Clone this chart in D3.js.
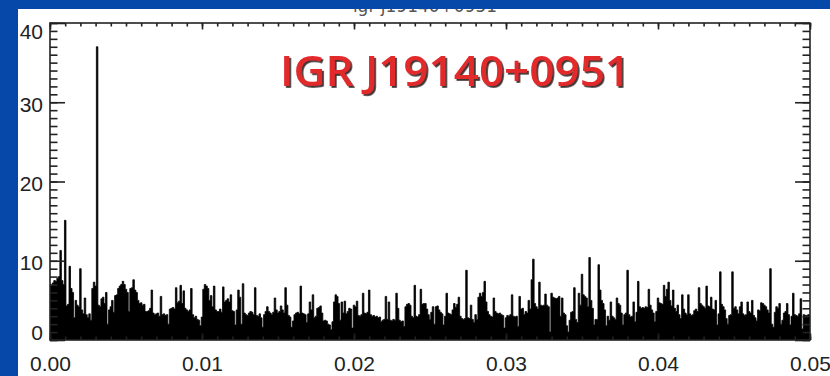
<!DOCTYPE html>
<html>
<head>
<meta charset="utf-8">
<script src="https://cdn.jsdelivr.net/npm/d3@7"></script>
<style>
  html, body { margin: 0; padding: 0; background: #fff; }
  svg { display: block; }
</style>
</head>
<body>
<svg id="chart" width="830" height="376"></svg>
<script>
// Power spectrum of IGR J19140+0951: one power value per frequency bin.
const freqStep = 0.0001; // Hz per bin
const power = [
  7.0, 6.8, 7.2, 7.5, 7.4, 7.8, 8.0, 11.3, 7.5, 7.0,
  15.1, 4.3, 4.5, 9.3, 6.5, 6.0, 2.8, 5.0, 4.4, 4.2,
  9.0, 3.8, 3.3, 5.3, 3.2, 2.8, 3.3, 2.5, 6.5, 7.3,
  6.8, 37.0, 4.4, 4.2, 5.2, 5.4, 4.6, 6.0, 2.0, 3.8,
  4.2, 5.0, 3.5, 5.6, 5.7, 6.5, 6.8, 7.0, 7.4, 7.0,
  6.4, 6.0, 3.6, 6.5, 6.6, 7.6, 6.3, 6.0, 5.0, 4.6,
  4.7, 4.4, 4.5, 3.6, 3.6, 3.7, 4.0, 6.3, 3.4, 3.2,
  3.3, 3.4, 3.0, 5.5, 3.2, 3.3, 3.1, 3.2, 2.0, 3.9,
  4.0, 4.1, 3.9, 6.6, 4.7, 4.9, 6.9, 4.6, 6.2, 4.0,
  3.8, 3.6, 3.8, 6.5, 3.2, 2.8, 3.0, 2.6, 2.5, 1.8,
  2.9, 6.4, 7.0, 6.8, 6.5, 5.0, 5.6, 4.2, 6.8, 3.8,
  3.6, 3.6, 3.9, 3.5, 6.7, 4.8, 5.0, 5.2, 4.8, 5.7,
  3.7, 3.6, 1.9, 3.8, 6.3, 5.4, 2.0, 7.1, 3.4, 3.2,
  3.1, 3.4, 3.6, 3.5, 3.2, 6.6, 3.1, 3.0, 3.3, 2.8,
  1.6, 3.2, 3.6, 4.2, 3.6, 3.4, 3.2, 3.5, 5.3, 3.8,
  3.4, 3.6, 4.3, 3.8, 3.4, 6.6, 4.4, 3.1, 2.9, 1.6,
  2.4, 3.2, 3.4, 3.5, 3.3, 6.8, 3.4, 3.3, 3.2, 2.2,
  3.3, 4.8, 3.8, 5.7, 2.8, 3.0, 4.0, 4.1, 4.3, 3.4,
  2.4, 2.5, 2.4, 2.0, 1.9, 1.3, 2.3, 4.8, 5.7, 5.5,
  4.6, 2.5, 4.8, 3.4, 4.9, 3.3, 3.6, 4.0, 3.9, 1.5,
  4.4, 4.2, 4.9, 3.1, 3.0, 3.2, 5.9, 3.4, 3.3, 3.5,
  6.3, 3.2, 3.0, 3.1, 2.9, 3.0, 2.8, 2.9, 2.3, 2.5,
  2.6, 5.5, 2.6, 4.8, 2.5, 2.4, 2.6, 2.5, 5.9, 4.0,
  2.5, 2.3, 2.4, 1.7, 4.2, 4.5, 4.6, 4.4, 3.0, 2.8,
  6.9, 3.0, 2.9, 3.2, 6.4, 4.5, 4.6, 4.6, 3.9, 3.2,
  2.6, 3.5, 4.2, 2.0, 4.2, 4.3, 3.8, 3.5, 3.3, 1.9,
  3.0, 5.9, 3.4, 3.3, 3.2, 3.8, 4.6, 4.1, 4.5, 5.4,
  3.0, 2.7, 2.6, 2.7, 8.8, 2.8, 2.7, 4.4, 2.6, 2.2,
  3.2, 2.6, 5.4, 5.9, 5.5, 6.0, 7.4, 4.8, 3.6, 3.2,
  3.0, 2.9, 5.3, 3.6, 3.4, 3.3, 3.4, 3.2, 3.1, 1.5,
  2.8, 3.1, 3.0, 3.2, 5.7, 3.0, 2.9, 3.0, 1.7, 5.5,
  3.9, 4.0, 3.2, 3.6, 3.4, 5.0, 3.9, 7.6, 10.2, 4.6,
  4.2, 3.9, 7.3, 4.4, 4.3, 4.4, 5.8, 4.4, 4.2, 1.0,
  5.9, 5.4, 5.3, 5.2, 5.3, 5.5, 3.0, 5.3, 3.4, 3.2,
  1.8, 1.0, 2.5, 3.5, 3.6, 6.6, 2.6, 2.2, 5.9, 4.4,
  8.3, 5.7, 5.5, 5.3, 4.2, 10.4, 5.0, 4.0, 1.9, 2.6,
  2.6, 9.5, 6.3, 5.0, 4.6, 3.8, 1.8, 3.0, 2.5, 4.8,
  3.0, 2.8, 2.6, 5.3, 4.6, 4.4, 3.4, 1.9, 3.2, 3.4,
  8.8, 3.2, 2.9, 3.0, 4.8, 2.3, 3.5, 7.4, 4.2, 4.0,
  4.1, 4.0, 4.2, 4.1, 6.4, 4.4, 3.8, 3.4, 2.3, 3.6,
  5.3, 4.7, 4.6, 4.5, 6.9, 5.5, 6.4, 7.3, 5.0, 4.3,
  6.3, 4.0, 3.6, 4.4, 3.2, 2.7, 5.7, 3.9, 3.4, 3.2,
  5.7, 3.3, 3.1, 3.2, 3.7, 3.9, 3.6, 6.6, 4.6, 4.4,
  4.2, 4.0, 6.8, 4.3, 4.2, 5.4, 3.9, 3.8, 5.0, 1.9,
  3.3, 8.6, 4.5, 4.2, 3.8, 2.7, 2.0, 3.1, 3.2, 8.6,
  4.0, 4.2, 3.8, 3.3, 4.2, 4.8, 3.3, 3.1, 3.2, 4.8,
  3.6, 3.4, 5.0, 3.1, 2.8, 2.4, 3.8, 3.7, 4.7, 4.6,
  4.4, 4.2, 3.8, 3.4, 9.0, 2.0, 1.6, 3.5, 4.2, 4.0,
  4.6, 2.0, 2.5, 3.4, 3.6, 4.6, 3.2, 1.9, 3.0, 5.9,
  3.2, 3.1, 3.0, 3.3, 5.2, 1.4, 3.2, 3.1, 3.1, 3.2,
  3.0
];

const xDomain = [0, 0.05];
const yDomain = [0, 40];
const xTickValues = [0, 0.01, 0.02, 0.03, 0.04, 0.05];
const yTickValues = [0, 10, 20, 30, 40];
const xMinorStep = 0.001;
const yMinorStep = 1;
const sourceName = "IGR J19140+0951";
const plotTitle = "igr j19140+0951";

// ---- layout ----
const W = 830, H = 376;
const frame = { left: 50, top: 23, right: 810, bottom: 340 };
const ink = "#222";
const slideBlue = "#0548AA";

const x = d3.scaleLinear().domain(xDomain).range([frame.left, frame.right]);
const y = d3.scaleLinear().domain(yDomain).range([frame.bottom, frame.top]);

const svg = d3.select("#chart");
svg.append("rect").attr("width", W).attr("height", H).attr("fill", "#fff");

const defs = svg.append("defs");
defs.append("filter").attr("id", "nameShadow")
  .attr("x", "-5%").attr("y", "-20%").attr("width", "110%").attr("height", "140%")
  .append("feDropShadow")
  .attr("dx", 1.8).attr("dy", 1.8).attr("stdDeviation", 0.6)
  .attr("flood-color", "#2a1a1a").attr("flood-opacity", 0.9);
defs.append("clipPath").attr("id", "plotClip")
  .append("rect")
  .attr("x", frame.left).attr("y", frame.top)
  .attr("width", frame.right - frame.left).attr("height", frame.bottom - frame.top);

// plot title, mostly tucked under the slide header band
svg.append("text")
  .attr("x", 425).attr("y", 12)
  .attr("text-anchor", "middle")
  .attr("font-family", "DejaVu Sans, sans-serif")
  .attr("font-size", 17)
  .attr("fill", "#555")
  .text(plotTitle);

// ---- spectrum ----
const spectrum = power.map((p, i) => ({ f: i * freqStep, p }));

const area = d3.area()
  .curve(d3.curveStep)
  .x(d => x(d.f))
  .y0(y(0))
  .y1(d => y(d.p));

svg.append("path")
  .datum(spectrum)
  .attr("clip-path", "url(#plotClip)")
  .attr("d", area)
  .attr("fill", "#000")
  .attr("stroke", "#000")
  .attr("stroke-width", 0.8);

// ---- axes (inward ticks on all four sides) ----
const xMinor = d3.range(0, Math.round(xDomain[1] / xMinorStep) + 1).map(k => k * xMinorStep);
const yMinor = d3.range(yDomain[0], yDomain[1] + yMinorStep, yMinorStep);

function styleAxis(g) {
  g.select(".domain").remove();
  g.selectAll("line").attr("stroke", ink).attr("stroke-width", 1.6);
}

// left
svg.append("g").attr("transform", `translate(${frame.left},0)`)
  .call(d3.axisLeft(y).tickValues(yMinor).tickSize(-7.5).tickFormat(""))
  .call(styleAxis);
const yLab = svg.append("g").attr("transform", `translate(${frame.left},0)`)
  .call(d3.axisLeft(y).tickValues(yTickValues).tickSize(-15).tickPadding(7).tickFormat(d3.format("d")))
  .call(styleAxis);
yLab.selectAll("text")
  .attr("font-family", "Liberation Sans, Arial, sans-serif")
  .attr("font-size", 21)
  .attr("fill", ink)
  .attr("dy", "0.35em")
  .attr("y", d => {
    const c = Math.min(Math.max(y(d) + 1.5, frame.top + 8), frame.bottom - 8);
    return c - y(d);
  });

// right
svg.append("g").attr("transform", `translate(${frame.right},0)`)
  .call(d3.axisRight(y).tickValues(yMinor).tickSize(-7.5).tickFormat(""))
  .call(styleAxis);
svg.append("g").attr("transform", `translate(${frame.right},0)`)
  .call(d3.axisRight(y).tickValues(yTickValues).tickSize(-15).tickFormat(""))
  .call(styleAxis);

// top
svg.append("g").attr("transform", `translate(0,${frame.top})`)
  .call(d3.axisTop(x).tickValues(xMinor).tickSize(-3.5).tickFormat(""))
  .call(styleAxis);
svg.append("g").attr("transform", `translate(0,${frame.top})`)
  .call(d3.axisTop(x).tickValues(xTickValues).tickSize(-6.5).tickFormat(""))
  .call(styleAxis);

// bottom
svg.append("g").attr("transform", `translate(0,${frame.bottom})`)
  .call(d3.axisBottom(x).tickValues(xMinor).tickSize(-3.5).tickFormat(""))
  .call(styleAxis);
const xLab = svg.append("g").attr("transform", `translate(0,${frame.bottom})`)
  .call(d3.axisBottom(x).tickValues(xTickValues).tickSize(-6.5).tickFormat(d3.format(".2f")))
  .call(styleAxis);
xLab.selectAll("text")
  .attr("font-family", "Liberation Sans, Arial, sans-serif")
  .attr("font-size", 21)
  .attr("fill", ink)
  .attr("y", 24)
  .attr("dy", "0.35em");

// frame
svg.append("rect")
  .attr("x", frame.left).attr("y", frame.top)
  .attr("width", frame.right - frame.left).attr("height", frame.bottom - frame.top)
  .attr("fill", "none").attr("stroke", ink).attr("stroke-width", 1.6);

// ---- source name ----
svg.append("text")
  .attr("x", 280).attr("y", 86)
  .attr("font-family", "Open Sans, DejaVu Sans, sans-serif")
  .attr("font-weight", 600)
  .attr("font-size", 42)
  .attr("textLength", 350).attr("lengthAdjust", "spacingAndGlyphs")
  .attr("fill", "#E3292C")
  .attr("filter", "url(#nameShadow)")
  .text(sourceName);

// ---- slide header band and left edge ----
svg.append("rect").attr("x", 0).attr("y", 0).attr("width", W).attr("height", 9).attr("fill", slideBlue);
svg.append("rect").attr("x", 0).attr("y", 0).attr("width", 18).attr("height", H).attr("fill", slideBlue);
</script>
</body>
</html>
